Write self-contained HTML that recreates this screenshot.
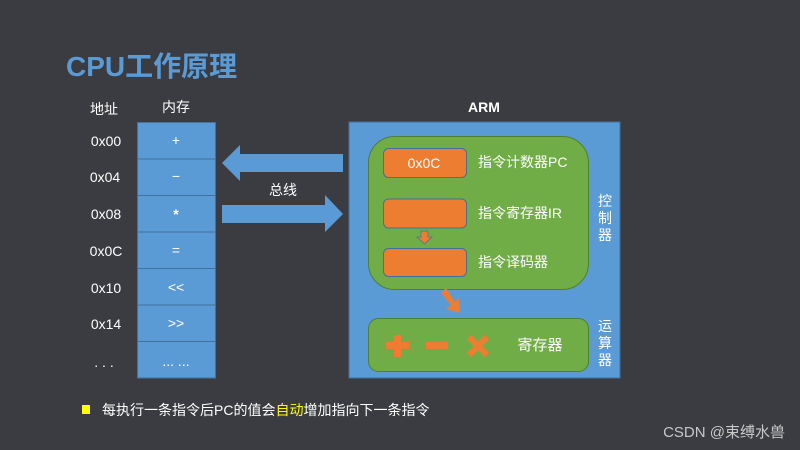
<!DOCTYPE html>
<html><head><meta charset="utf-8"><style>
html,body{margin:0;padding:0;background:#3b3c41;}
svg{display:block}
text{font-family:"Liberation Sans","Noto Sans CJK SC",sans-serif;}
</style></head><body>
<svg width="800" height="450" viewBox="0 0 800 450" xmlns="http://www.w3.org/2000/svg">
<rect width="800" height="450" fill="#3b3c41"/>
<text x="66" y="76" font-size="28" font-weight="bold" fill="#5b9bd5">CPU工作原理</text>
<g fill="#fff" font-size="14" text-anchor="middle">
<text x="104" y="114">地址</text>
<text x="176" y="112">内存</text>
<text x="106" y="146">0x00</text>
<text x="105" y="182">0x04</text>
<text x="106" y="219">0x08</text>
<text x="106" y="256">0x0C</text>
<text x="106" y="293">0x10</text>
<text x="106" y="329">0x14</text>
<text x="104" y="367">. . .</text>
</g>
<g stroke="#41719c" stroke-width="1" fill="#5b9bd5">
<rect x="137.5" y="122.5" width="78" height="36.5"/>
<rect x="137.5" y="159" width="78" height="36.5"/>
<rect x="137.5" y="195.5" width="78" height="36.5"/>
<rect x="137.5" y="232" width="78" height="36.5"/>
<rect x="137.5" y="268.5" width="78" height="36.5"/>
<rect x="137.5" y="305" width="78" height="36.5"/>
<rect x="137.5" y="341.5" width="78" height="36.5"/>
</g>
<g fill="#fff" font-size="14" text-anchor="middle">
<text x="176" y="145">+</text>
<text x="176" y="181">−</text>
<text x="176" y="219" font-weight="bold">*</text>
<text x="176" y="255">=</text>
<text x="176" y="292">&lt;&lt;</text>
<text x="176" y="328">&gt;&gt;</text>
<text x="176" y="366">... ...</text>
</g>
<polygon points="222,163 240,145 240,154 343,154 343,172 240,172 240,181" fill="#5b9bd5"/>
<polygon points="222,205 325,205 325,195 343,214 325,232 325,223 222,223" fill="#5b9bd5"/>
<text x="283" y="195" fill="#fff" font-size="14" text-anchor="middle">总线</text>
<text x="484" y="112" fill="#fff" font-size="14" font-weight="bold" text-anchor="middle">ARM</text>
<rect x="349" y="122" width="271" height="256" fill="#5b9bd5" stroke="#41719c"/>
<rect x="368.5" y="136.5" width="220" height="153" rx="26" fill="#70ad47" stroke="#507e32"/>
<g fill="#ed7d31" stroke="#41719c">
<rect x="383.5" y="148.5" width="83" height="29" rx="5"/>
<rect x="383.5" y="199" width="83" height="29" rx="5"/>
<rect x="383.5" y="248.5" width="83" height="28" rx="5"/>
</g>
<text x="424" y="168" fill="#fff" font-size="14" text-anchor="middle">0x0C</text>
<g fill="#fff" font-size="14">
<text x="478" y="167">指令计数器PC</text>
<text x="478" y="218">指令寄存器IR</text>
<text x="478" y="267">指令译码器</text>
</g>
<polygon points="421,231 428,231 428,237 432,237 424.5,244 417,237 421,237" fill="#ed7d31" stroke="#41719c" stroke-width="0.7"/>
<polygon points="441,293 446,288 455,302 459,298 460,313 446,309 451,305" fill="#ed7d31"/>
<rect x="368.5" y="318.5" width="220" height="53" rx="10" fill="#70ad47" stroke="#507e32"/>
<polygon points="394,335 401,335 401,342 409,342 409,349 401,349 401,357 394,357 394,349 386,349 386,342 394,342" fill="#ed7d31"/>
<rect x="426" y="342" width="22" height="7" fill="#ed7d31"/>
<g stroke="#ed7d31" stroke-width="6"><line x1="469" y1="337" x2="487" y2="355"/><line x1="487" y1="337" x2="469" y2="355"/></g>
<text x="540" y="350" fill="#fff" font-size="15" text-anchor="middle">寄存器</text>
<g fill="#fff" font-size="14" text-anchor="middle">
<text x="605" y="206">控</text><text x="605" y="223">制</text><text x="605" y="240">器</text>
<text x="605" y="331">运</text><text x="605" y="348">算</text><text x="605" y="365">器</text>
</g>
<rect x="82" y="405" width="8" height="9" fill="#ffff00"/>
<text x="102" y="415" font-size="14" fill="#fff">每执行一条指令后PC的值会<tspan fill="#ffff00">自动</tspan>增加指向下一条指令</text>
<text x="785" y="437" font-size="15" fill="#c8c8c8" text-anchor="end">CSDN @束缚水兽</text>
</svg>
</body></html>
